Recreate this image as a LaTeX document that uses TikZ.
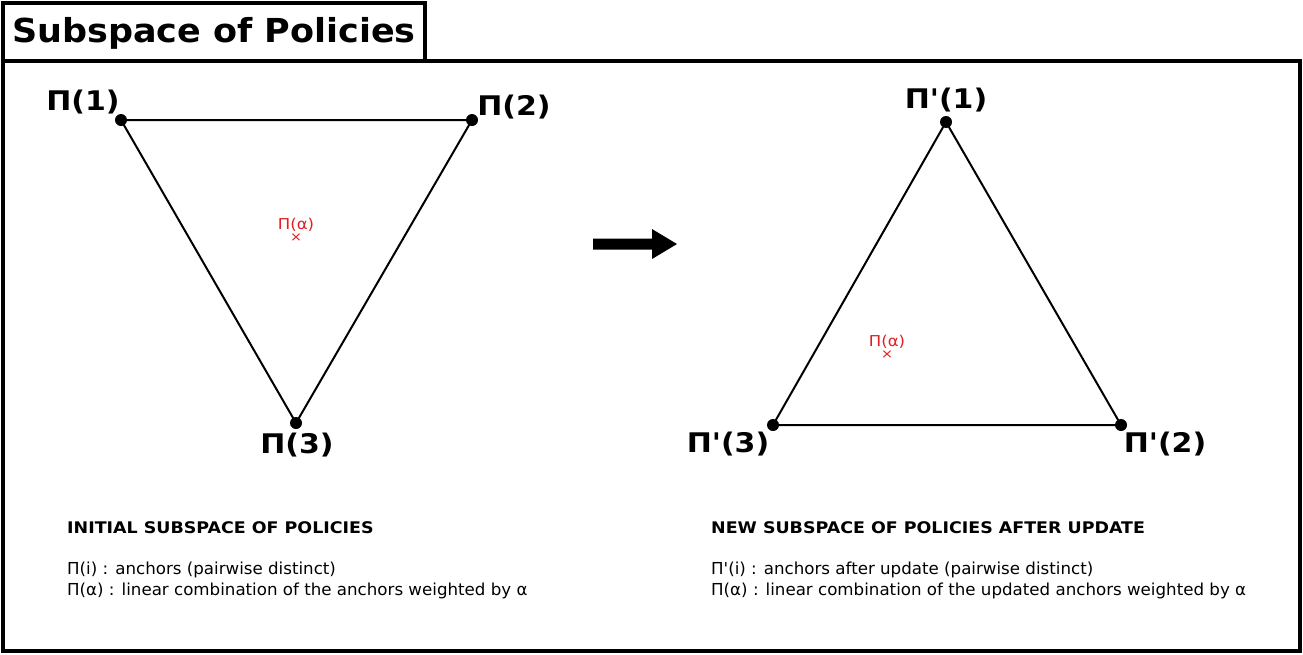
\documentclass[tikz,border=0pt]{standalone}
\usepackage{fontspec}
\setmainfont{DejaVu Sans}[Ligatures=TeXOff]
\newfontfamily\titlefam{DejaVu Sans}[Ligatures=TeXOff,FakeStretch=1.06]
\newfontfamily\labelfam{DejaVu Sans}[Ligatures=TeXOff,FakeStretch=1.11]
\newfontfamily\headfam{DejaVu Sans}[Ligatures=TeXOff,FakeStretch=1.09]
\newfontfamily\bodyfam{DejaVu Sans}[Ligatures=TeXOff,FakeStretch=1.01]
\newfontfamily\mixfam{DejaVu Sans}[Ligatures=TeXOff,FakeStretch=1.1]
\definecolor{alphared}{HTML}{E02020}
\begin{document}
\begin{tikzpicture}[x=1pt,y=-1pt,
  frame/.style={draw=black,line width=3.3pt},
  edge/.style={draw=black,line width=2pt},
  anchorpt/.style={circle,fill=black,inner sep=0pt,minimum size=12pt},
  vlabel/.style={anchor=base,inner sep=0pt,font=\labelfam\fontsize{27}{31}\selectfont\bfseries},
  mixlabel/.style={anchor=base,inner sep=0pt,text=alphared,font=\mixfam\fontsize{15}{18}\selectfont},
  mixmark/.style={inner sep=0pt,text=alphared,font=\mixfam\fontsize{13}{14}\selectfont},
  headtxt/.style={anchor=base west,inner sep=0pt,font=\headfam\fontsize{16}{19}\selectfont\bfseries},
  bodytxt/.style={anchor=base west,inner sep=0pt,font=\bodyfam\fontsize{16.5}{19}\selectfont}]
\useasboundingbox (0,0) rectangle (1303,654);
\fill[white] (0,0) rectangle (1303,654);
% frames
\draw[frame] (3,61) rectangle (1300,651);
\draw[frame] (3,3) rectangle (425,61);
\node[anchor=base west,inner sep=0pt,font=\titlefam\fontsize{33}{38}\selectfont\bfseries] (title) at (12,42) {Subspace of Policies};
% left triangle
\node[anchorpt] (a1) at (121,120) {};
\node[anchorpt] (a2) at (472,120) {};
\node[anchorpt] (a3) at (296,423) {};
\draw[edge] (a1.center) -- (a2.center) -- (a3.center) -- cycle;
\node[vlabel] (l1) at (83,110) {Π(1)};
\node[vlabel] (l2) at (514,115) {Π(2)};
\node[vlabel] (l3) at (297,453) {Π(3)};
\node[mixlabel] (m1) at (296,229) {Π(α)};
\node[mixmark] (x1) at (296,238) {×};
% arrow
\fill[black] (593,238.5) -- (652,238.5) -- (652,229) -- (677,244) -- (652,259) -- (652,249.5) -- (593,249.5) -- cycle;
% right triangle
\node[anchorpt] (b1) at (946,122) {};
\node[anchorpt] (b2) at (1121,425) {};
\node[anchorpt] (b3) at (773,425) {};
\draw[edge] (b1.center) -- (b2.center) -- (b3.center) -- cycle;
\node[vlabel] (k1) at (946,108) {Π'(1)};
\node[vlabel] (k2) at (1165,452) {Π'(2)};
\node[vlabel] (k3) at (728,452) {Π'(3)};
\node[mixlabel] (m2) at (887,346) {Π(α)};
\node[mixmark] (x2) at (887,355) {×};
% captions
\node[headtxt] (h1) at (67,533) {INITIAL SUBSPACE OF POLICIES};
\node[bodytxt] (t1) at (67,574) {Π(i) : anchors (pairwise distinct)};
\node[bodytxt] (t2) at (67,595) {Π(α) : linear combination of the anchors weighted by α};
\node[headtxt] (h2) at (711,533) {NEW SUBSPACE OF POLICIES AFTER UPDATE};
\node[bodytxt] (t3) at (711,574) {Π'(i) : anchors after update (pairwise distinct)};
\node[bodytxt] (t4) at (711,595) {Π(α) : linear combination of the updated anchors weighted by α};
\end{tikzpicture}
\end{document}
